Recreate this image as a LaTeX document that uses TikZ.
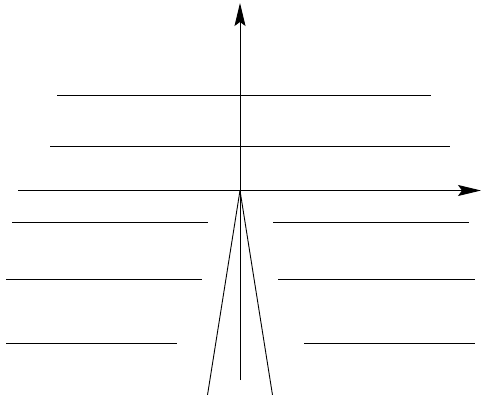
\documentclass[tikz,border=0pt]{standalone}
\usetikzlibrary{arrows.meta}
\begin{document}
\begin{tikzpicture}[x=1pt,y=-1pt,
  ln/.style={line width=0.9pt,black},
  axarrow/.style={ln,-{Stealth[length=23pt,width=11pt,inset=4pt]}}]
\useasboundingbox (0,0) rectangle (482,395);
\coordinate (O) at (240,190.5);
\coordinate (vbot) at (240,380);
\coordinate (vtop) at (240,3);
\coordinate (hleft) at (18,190.5);
\coordinate (hright) at (481,190.5);
\coordinate (sl) at (207.5,395);
\coordinate (sr) at (272.5,395);
% axes
\draw[axarrow] (vbot) -- (vtop);
\draw[axarrow] (hleft) -- (hright);
% upper lines
\draw[ln] (57,95) -- (431,95);
\draw[ln] (50,146.5) -- (450,146.5);
% lower lines
\draw[ln] (12,222) -- (208,222);
\draw[ln] (273,222) -- (469,222);
\draw[ln] (6,279) -- (202,279);
\draw[ln] (278,279) -- (475,279);
\draw[ln] (6,343) -- (177,343);
\draw[ln] (304,343) -- (475,343);
% slanted lines
\draw[ln] (O) -- (sl);
\draw[ln] (O) -- (sr);
\end{tikzpicture}
\end{document}
